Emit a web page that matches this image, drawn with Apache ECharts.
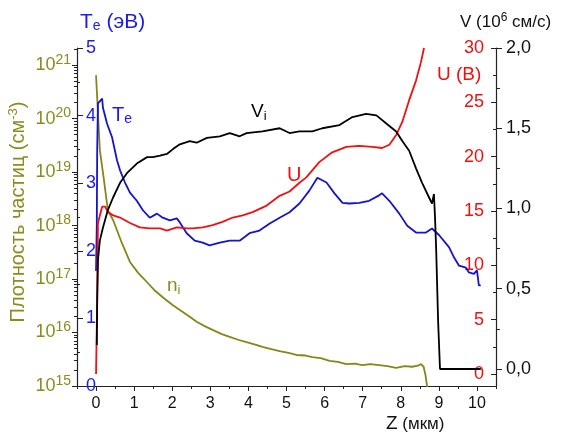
<!DOCTYPE html>
<html>
<head>
<meta charset="utf-8">
<script src="https://cdn.jsdelivr.net/npm/echarts@6/dist/echarts.min.js"></script>
<style>
  html, body { margin: 0; padding: 0; background: #fff; }
  #chart { width: 563px; height: 435px; }
</style>
</head>
<body>
<div id="chart"></div>
<script>
// Z (мкм) ticks
var zTicks = [0, 1, 2, 3, 4, 5, 6, 7, 8, 9, 10];
var zHalfTicks = [-0.5, 0.5, 1.5, 2.5, 3.5, 4.5, 5.5, 6.5, 7.5, 8.5, 9.5, 10.5];
// density axis: log10 decades
var logDecades = [15, 16, 17, 18, 19, 20, 21];
var teTicks = [0, 1, 2, 3, 4, 5];
var uTicks = [0, 5, 10, 15, 20, 25, 30];
var uMinor = [2.5, 7.5, 12.5, 17.5, 22.5, 27.5];
var vTicks = [0, 0.5, 1.0, 1.5, 2.0];
var vMinor = [0.25, 0.75, 1.25, 1.75];

// n_i : log10 of density (см^-3)
var niZ = [0, 0.1, 0.2, 0.31, 0.45, 0.68, 0.89, 1.1, 1.34, 1.55, 1.75, 2.0, 2.2, 2.45, 2.64, 2.85, 3.06, 3.3, 3.51, 3.75, 3.95, 4.2, 4.37, 4.6, 4.82, 5.05, 5.26, 5.5, 5.68, 5.9, 6.13, 6.35, 6.57, 6.8, 6.99, 7.2, 7.43, 7.65, 7.88, 8.1, 8.3, 8.45, 8.53, 8.6, 8.65, 8.69, 8.72];
var niLog = [20.81, 19.41, 18.89, 18.29, 18.1, 17.67, 17.32, 17.12, 16.94, 16.78, 16.66, 16.52, 16.42, 16.3, 16.2, 16.12, 16.05, 15.97, 15.92, 15.86, 15.82, 15.77, 15.73, 15.69, 15.65, 15.62, 15.58, 15.57, 15.54, 15.52, 15.47, 15.45, 15.41, 15.42, 15.39, 15.41, 15.39, 15.37, 15.34, 15.37, 15.36, 15.38, 15.41, 15.36, 15.2, 15.0, 14.8];

// T_e (эВ)
var teZ = [0, 0.02, 0.03, 0.05, 0.16, 0.18, 0.29, 0.42, 0.55, 0.63, 0.76, 0.89, 1.07, 1.23, 1.41, 1.6, 1.75, 1.94, 2.12, 2.2, 2.38, 2.59, 2.8, 2.98, 3.25, 3.51, 3.77, 4.03, 4.29, 4.55, 4.82, 5.08, 5.34, 5.6, 5.81, 6.05, 6.26, 6.47, 6.65, 6.91, 7.17, 7.43, 7.51, 7.7, 7.96, 8.17, 8.4, 8.66, 8.82, 9.01, 9.27, 9.4, 9.53, 9.71, 9.79, 9.92, 10.0, 10.05, 10.1];
var teVal = [1.7, 2.4, 3.48, 4.18, 4.25, 4.12, 3.88, 3.68, 3.34, 3.19, 3.01, 2.86, 2.74, 2.6, 2.49, 2.55, 2.49, 2.45, 2.48, 2.42, 2.26, 2.15, 2.12, 2.08, 2.12, 2.15, 2.15, 2.26, 2.3, 2.4, 2.49, 2.57, 2.7, 2.89, 3.08, 3.01, 2.85, 2.71, 2.7, 2.71, 2.74, 2.82, 2.85, 2.74, 2.55, 2.37, 2.27, 2.27, 2.33, 2.23, 2.05, 1.9, 1.78, 1.75, 1.68, 1.66, 1.71, 1.49, 1.49];

// U (B)
var uZ = [0, 0.03, 0.05, 0.16, 0.24, 0.31, 0.45, 0.63, 0.89, 1.15, 1.41, 1.68, 1.86, 2.12, 2.38, 2.54, 2.8, 3.06, 3.32, 3.59, 3.85, 4.11, 4.48, 4.82, 5.08, 5.34, 5.52, 5.86, 6.2, 6.57, 6.91, 7.25, 7.51, 7.7, 7.88, 8.04, 8.22, 8.4, 8.53, 8.61];
var uVal = [0, 6.8, 13.9, 15.4, 15.4, 14.9, 14.6, 14.4, 13.9, 13.5, 13.4, 13.4, 13.2, 13.5, 13.4, 13.4, 13.5, 13.7, 14.0, 14.4, 14.6, 14.9, 15.5, 16.4, 16.8, 17.6, 18.1, 19.5, 20.4, 20.9, 21.0, 20.9, 20.8, 21.1, 22.0, 23.2, 25.2, 27.0, 28.7, 30.0];

// V_i (10^6 см/с)
var vZ = [0.02, 0.03, 0.05, 0.1, 0.18, 0.31, 0.45, 0.63, 0.81, 1.07, 1.34, 1.49, 1.68, 1.86, 2.02, 2.2, 2.46, 2.64, 2.91, 3.25, 3.51, 3.77, 3.95, 4.37, 4.82, 5.08, 5.34, 5.68, 5.94, 6.39, 6.73, 7.09, 7.36, 7.62, 7.88, 8.04, 8.22, 8.4, 8.56, 8.74, 8.82, 8.87, 8.9, 8.93, 8.98, 9.03, 10.1];
var vVal = [0.15, 0.43, 0.68, 0.8, 0.88, 0.99, 1.07, 1.16, 1.22, 1.28, 1.32, 1.32, 1.33, 1.34, 1.37, 1.4, 1.42, 1.41, 1.44, 1.45, 1.47, 1.45, 1.47, 1.48, 1.5, 1.47, 1.48, 1.48, 1.5, 1.52, 1.57, 1.59, 1.58, 1.53, 1.48, 1.42, 1.36, 1.25, 1.16, 1.07, 1.03, 1.09, 0.94, 0.74, 0.3, 0.0, 0.0];

function pairs(xs, ys) {
  return xs.map(function (x, i) { return [x, ys[i]]; });
}

var logMinor = [];
logDecades.forEach(function (d) {
  for (var k = 2; k <= 9; k++) {
    var v = d + Math.log10(k);
    if (v <= 21.32) logMinor.push(v);
  }
});

var FONT = 'Liberation Sans';
var OLIVE = '#8b8b1e';
var BLUE = '#1c1ce6';
var RED = '#ee1111';

var chart = echarts.init(document.getElementById('chart'));

var option = {
  animation: false,
  backgroundColor: '#fff',
  grid: { left: 77, right: 67, top: 48, bottom: 49 },
  xAxis: [
    {
      type: 'value', min: -0.5, max: 10.5, position: 'bottom',
      axisLine: { show: true, onZero: false, lineStyle: { color: '#222', width: 1.2 } },
      axisTick: { show: true, customValues: zTicks, length: 5, lineStyle: { color: '#222' } },
      axisLabel: { customValues: zTicks, fontSize: 16, margin: 10, color: '#111', fontFamily: FONT },
      splitLine: { show: false }
    },
    {
      type: 'value', min: -0.5, max: 10.5, position: 'bottom',
      axisLine: { show: false, onZero: false },
      axisTick: { show: true, customValues: zHalfTicks, length: 3, lineStyle: { color: '#222' } },
      axisLabel: { show: false },
      splitLine: { show: false }
    }
  ],
  yAxis: [
    {
      // density, log10
      type: 'value', min: 15, max: 21.32, position: 'left',
      axisLine: { show: true, onZero: false, lineStyle: { color: '#222', width: 1.2 } },
      axisTick: { show: true, customValues: logDecades, length: 5, lineStyle: { color: '#222' } },
      axisLabel: {
        customValues: logDecades, margin: 6, color: OLIVE, fontFamily: FONT,
        formatter: function (v) { return '{b|10}{s|' + Math.round(v) + '}'; },
        rich: {
          b: { fontSize: 18, color: OLIVE, fontFamily: FONT },
          s: { fontSize: 14, color: OLIVE, fontFamily: FONT, padding: [0, 0, 10, 0] }
        }
      },
      splitLine: { show: false }
    },
    {
      type: 'value', min: 15, max: 21.32, position: 'left',
      axisLine: { show: false, onZero: false },
      axisTick: { show: true, customValues: logMinor, length: 3, lineStyle: { color: '#222' } },
      axisLabel: { show: false },
      splitLine: { show: false }
    },
    {
      // T_e
      type: 'value', min: 0, max: 5, interval: 1, position: 'left',
      axisLine: { show: false, onZero: false },
      axisTick: { show: true, inside: true, length: 6, lineStyle: { color: '#222' } },
      minorTick: { show: true, splitNumber: 2, length: 3, lineStyle: { color: '#222' } },
      axisLabel: { inside: true, margin: 9, fontSize: 18, color: BLUE, fontFamily: FONT },
      splitLine: { show: false }
    },
    {
      // U
      type: 'value', min: -1.1, max: 30, position: 'right',
      axisLine: { show: true, onZero: false, lineStyle: { color: '#222', width: 1.2 } },
      axisTick: { show: true, inside: true, customValues: uTicks, length: 5, lineStyle: { color: '#222' } },
      axisLabel: { customValues: uTicks, inside: true, margin: 12, fontSize: 18, color: RED, fontFamily: FONT },
      splitLine: { show: false }
    },
    {
      type: 'value', min: -1.1, max: 30, position: 'right',
      axisLine: { show: false, onZero: false },
      axisTick: { show: true, inside: true, customValues: uMinor, length: 3, lineStyle: { color: '#222' } },
      axisLabel: { show: false },
      splitLine: { show: false }
    },
    {
      // V
      type: 'value', min: -0.106, max: 2.0, position: 'right',
      axisLine: { show: false, onZero: false },
      axisTick: { show: true, customValues: vTicks, length: 6, lineStyle: { color: '#222' } },
      axisLabel: {
        customValues: vTicks, margin: 10, fontSize: 18, color: '#111', fontFamily: FONT,
        formatter: function (v) { return v.toFixed(1).replace('.', ','); }
      },
      splitLine: { show: false }
    },
    {
      type: 'value', min: -0.106, max: 2.0, position: 'right',
      axisLine: { show: false, onZero: false },
      axisTick: { show: true, customValues: vMinor, length: 4, lineStyle: { color: '#222' } },
      axisLabel: { show: false },
      splitLine: { show: false }
    }
  ],
  series: [
    {
      name: 'n_i', type: 'line', xAxisIndex: 0, yAxisIndex: 0, showSymbol: false, clip: true,
      data: pairs(niZ, niLog), lineStyle: { color: '#86861a', width: 1.8 }
    },
    {
      name: 'Te', type: 'line', xAxisIndex: 0, yAxisIndex: 2, showSymbol: false, clip: true,
      data: pairs(teZ, teVal), lineStyle: { color: '#1414cc', width: 1.8 }
    },
    {
      name: 'U', type: 'line', xAxisIndex: 0, yAxisIndex: 3, showSymbol: false, clip: true,
      data: pairs(uZ, uVal), lineStyle: { color: RED, width: 1.8 }
    },
    {
      name: 'V', type: 'line', xAxisIndex: 0, yAxisIndex: 5, showSymbol: false, clip: true,
      data: pairs(vZ, vVal), lineStyle: { color: '#000', width: 1.8 }
    }
  ],
  graphic: [
    {
      type: 'text', x: 80, y: 22,
      style: {
        text: '{t|T}{e|e}{t| (эВ)}', verticalAlign: 'middle', fill: BLUE,
        rich: {
          t: { fontSize: 21, fontFamily: FONT, fill: BLUE },
          e: { fontSize: 14, fontFamily: FONT, fill: BLUE, padding: [9, 0, 0, 0] }
        }
      }
    },
    {
      type: 'text', x: 18, y: 212, rotation: Math.PI / 2,
      style: {
        text: '{a|Плотность частиц (см}{s|-3}{a|)}', align: 'center', verticalAlign: 'middle', fill: OLIVE,
        rich: {
          a: { fontSize: 20, fontFamily: FONT, fill: OLIVE },
          s: { fontSize: 13, fontFamily: FONT, fill: OLIVE, padding: [0, 0, 10, 0] }
        }
      }
    },
    {
      type: 'text', x: 460, y: 22,
      style: {
        text: '{a|V (10}{s|6}{a| см/с)}', verticalAlign: 'middle', fill: '#111',
        rich: {
          a: { fontSize: 17, fontFamily: FONT, fill: '#111' },
          s: { fontSize: 12, fontFamily: FONT, fill: '#111', padding: [0, 0, 9, 0] }
        }
      }
    },
    {
      type: 'text', x: 437, y: 75,
      style: { text: 'U (B)', verticalAlign: 'middle', fill: RED, fontSize: 19, fontFamily: FONT }
    },
    {
      type: 'text', x: 386, y: 424,
      style: {
        text: '{z|Z}{a| (мкм)}', verticalAlign: 'middle', fill: '#111',
        rich: {
          z: { fontSize: 19, fontFamily: FONT, fill: '#111' },
          a: { fontSize: 17, fontFamily: FONT, fill: '#111' }
        }
      }
    },
    {
      type: 'text', x: 112, y: 115,
      style: {
        text: '{t|T}{e|e}', verticalAlign: 'middle', fill: BLUE,
        rich: {
          t: { fontSize: 20, fontFamily: FONT, fill: BLUE },
          e: { fontSize: 14, fontFamily: FONT, fill: BLUE, padding: [9, 0, 0, 0] }
        }
      }
    },
    {
      type: 'text', x: 251, y: 112,
      style: {
        text: '{t|V}{e|i}', verticalAlign: 'middle', fill: '#000',
        rich: {
          t: { fontSize: 19, fontFamily: FONT, fill: '#000' },
          e: { fontSize: 13, fontFamily: FONT, fill: '#000', padding: [9, 0, 0, 0] }
        }
      }
    },
    {
      type: 'text', x: 287, y: 175,
      style: { text: 'U', verticalAlign: 'middle', fill: RED, fontSize: 20, fontFamily: FONT }
    },
    {
      type: 'text', x: 167, y: 286,
      style: {
        text: '{t|n}{e|i}', verticalAlign: 'middle', fill: OLIVE,
        rich: {
          t: { fontSize: 19, fontFamily: FONT, fill: OLIVE },
          e: { fontSize: 13, fontFamily: FONT, fill: OLIVE, padding: [9, 0, 0, 0] }
        }
      }
    }
  ]
};

chart.setOption(option);
</script>
</body>
</html>
